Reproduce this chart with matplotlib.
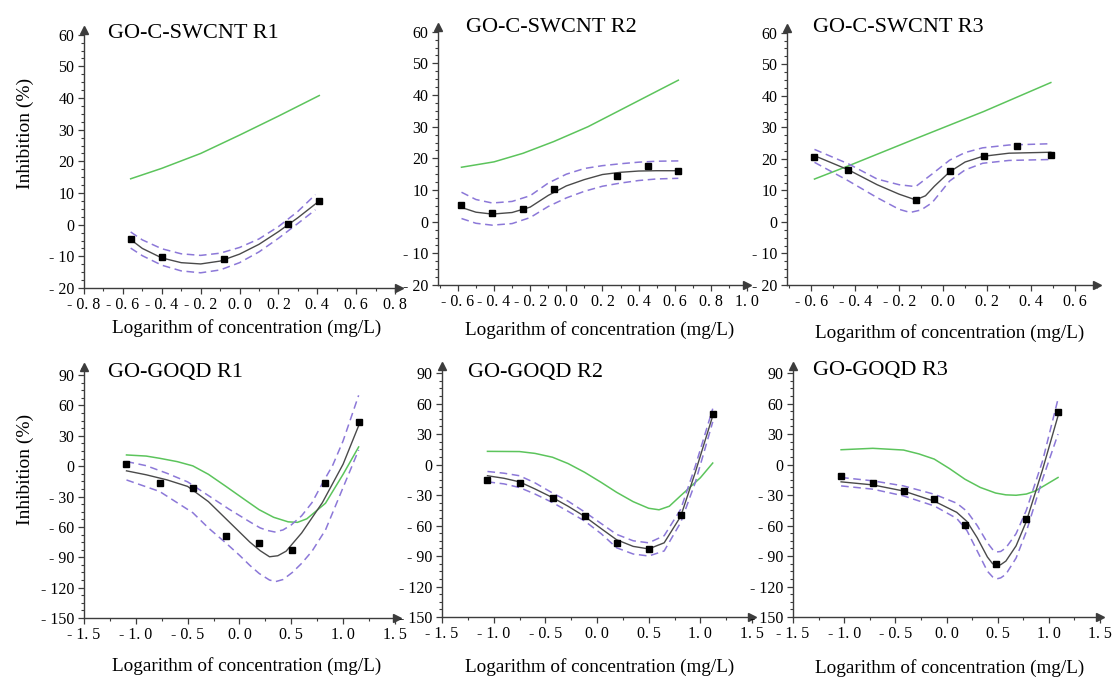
import numpy as np
import matplotlib.pyplot as plt
from matplotlib.ticker import MultipleLocator, AutoMinorLocator, FuncFormatter

plt.rcParams['font.family'] = ['Liberation Serif', 'DejaVu Serif']

# =======================================================
# values

# GO-C-SWCNT R1
r1_pts_x = [-0.56, -0.40, -0.08, 0.25, 0.41]
r1_pts_y = [-4.6, -10.2, -10.8, 0.2, 7.6]
r1_fit_x = [-0.56, -0.5, -0.4, -0.3, -0.2, -0.1, 0.0, 0.1, 0.2, 0.3, 0.41]
r1_fit_y = [-4.7, -7.5, -10.5, -12.0, -12.4, -11.5, -9.3, -6.2, -2.2, 2.2, 7.5]
r1_band_x = [-0.56, -0.5, -0.4, -0.3, -0.2, -0.1, 0.0, 0.1, 0.2, 0.3, 0.39]
r1_up_y = [-2.3, -4.8, -7.6, -9.2, -9.7, -9.0, -7.2, -4.5, -0.6, 4.2, 9.5]
r1_lo_y = [-7.4, -9.8, -12.8, -14.6, -15.2, -14.3, -12.0, -8.6, -4.3, 0.4, 4.7]
r1_green_x = [-0.56, -0.4, -0.2, 0.0, 0.2, 0.41]
r1_green_y = [14.5, 17.8, 22.5, 28.3, 34.3, 40.8]

# GO-C-SWCNT R2
r2_pts_x = [-0.58, -0.41, -0.24, -0.07, 0.28, 0.45, 0.62]
r2_pts_y = [5.3, 2.8, 3.9, 10.2, 14.4, 17.7, 16.0]
r2_fit_x = [-0.58, -0.5, -0.41, -0.3, -0.2, -0.1, 0.0, 0.1, 0.2, 0.3, 0.4, 0.5, 0.62]
r2_fit_y = [4.5, 3.0, 2.4, 2.9, 4.6, 8.3, 11.3, 13.3, 14.9, 15.6, 16.0, 16.1, 16.1]
r2_up_y = [9.3, 7.0, 5.9, 6.4, 8.2, 12.2, 15.0, 16.8, 17.7, 18.3, 18.8, 19.1, 19.2]
r2_lo_y = [1.0, -0.5, -1.1, -0.6, 1.3, 4.8, 7.5, 9.6, 11.2, 12.2, 13.0, 13.5, 13.7]
r2_green_x = [-0.58, -0.4, -0.24, -0.07, 0.12, 0.28, 0.46, 0.62]
r2_green_y = [17.2, 18.9, 21.6, 25.3, 30.0, 34.7, 40.0, 44.7]

# GO-C-SWCNT R3
r3_pts_x = [-0.585, -0.433, -0.125, 0.03, 0.184, 0.337, 0.492]
r3_pts_y = [20.5, 16.5, 7.1, 16.0, 20.9, 24.0, 21.2]
r3_fit_x = [-0.585, -0.43, -0.3, -0.2, -0.125, -0.08, -0.04, 0.03, 0.1, 0.18, 0.3, 0.49]
r3_fit_y = [21.0, 16.5, 11.8, 8.8, 7.0, 8.3, 11.3, 15.9, 19.0, 20.8, 21.8, 22.1]
r3_up_x = [-0.585, -0.43, -0.3, -0.2, -0.125, -0.05, 0.03, 0.1, 0.18, 0.3, 0.49]
r3_up_y = [23.0, 18.4, 13.6, 11.8, 11.2, 15.2, 19.6, 22.0, 23.5, 24.4, 24.8]
r3_lo_x = [-0.585, -0.43, -0.3, -0.2, -0.15, -0.1, -0.05, 0.03, 0.1, 0.18, 0.3, 0.49]
r3_lo_y = [18.9, 13.0, 7.7, 4.0, 3.0, 3.8, 6.1, 13.0, 16.5, 18.6, 19.5, 19.8]
r3_green_x = [-0.585, -0.43, -0.125, 0.184, 0.49]
r3_green_y = [13.6, 17.8, 26.4, 35.0, 44.2]

# GO-GOQD R1
q1_pts_x = [-1.09, -0.77, -0.45, -0.13, 0.19, 0.51, 0.83, 1.15]
q1_pts_y = [2.2, -16.8, -21.4, -69.4, -75.7, -83.2, -16.8, 43.3]
q1_fit_x = [-1.09, -0.9, -0.7, -0.5, -0.3, -0.1, 0.1, 0.2, 0.29, 0.37, 0.45, 0.6, 0.8, 1.0, 1.15]
q1_fit_y = [-4.6, -8.5, -13.5, -20.0, -35.0, -55.0, -75.0, -83.5, -89.5, -88.5, -84.0, -66.0, -36.0, 2.0, 40.0]
q1_up_x = [-1.09, -0.9, -0.7, -0.5, -0.3, -0.1, 0.1, 0.2, 0.27, 0.34, 0.42, 0.5, 0.6, 0.7, 0.8, 0.9, 1.0, 1.15]
q1_up_y = [4.6, 0.5, -7.0, -15.5, -29.0, -42.5, -55.0, -61.0, -63.5, -65.0, -63.0, -58.0, -49.0, -36.0, -17.0, 1.0, 25.0, 70.0]
q1_lo_x = [-1.09, -0.77, -0.45, -0.3, -0.13, 0.0, 0.1, 0.19, 0.29, 0.35, 0.42, 0.51, 0.6, 0.7, 0.83, 1.15]
q1_lo_y = [-13.6, -25.0, -46.0, -61.0, -76.0, -88.0, -98.0, -106.0, -112.5, -114.0, -112.0, -105.0, -96.0, -84.0, -63.0, 16.0]
q1_green_x = [-1.09, -0.9, -0.77, -0.6, -0.45, -0.3, -0.13, 0.05, 0.19, 0.33, 0.47, 0.56, 0.65, 0.83, 1.0, 1.15]
q1_green_y = [11.1, 10.0, 7.8, 4.5, 0.3, -8.0, -20.0, -33.0, -43.0, -50.5, -55.0, -55.5, -52.0, -36.6, -8.0, 19.0]

# GO-GOQD R2
q2_pts_x = [-1.06, -0.75, -0.43, -0.12, 0.19, 0.50, 0.81, 1.12]
q2_pts_y = [-15.3, -17.7, -33.1, -50.6, -77.6, -82.8, -49.6, 49.5]
q2_fit_x = [-1.06, -0.9, -0.75, -0.6, -0.43, -0.28, -0.12, 0.04, 0.19, 0.35, 0.5, 0.65, 0.81, 0.95, 1.12]
q2_fit_y = [-11, -13.5, -17, -24, -32.5, -41, -51, -63, -74, -80.5, -83, -77, -51, -8, 48]
q2_up_y = [-6.8, -8.5, -11, -18, -28, -36, -46.6, -58, -68.7, -75, -77, -70, -44, -2, 55]
q2_lo_y = [-17, -19, -22.6, -29, -37.4, -46, -55.5, -68, -81.9, -88, -90, -85, -57, -18, 42]
q2_green_x = [-1.06, -0.75, -0.6, -0.43, -0.28, -0.12, 0.04, 0.19, 0.35, 0.5, 0.6, 0.7, 0.81, 1.0, 1.12]
q2_green_y = [13, 12.8, 11.0, 7.2, 1.0, -7.6, -17.5, -27.3, -36.5, -43.0, -44.5, -41.0, -30.6, -13, 1.5]

# GO-GOQD R3
q3_pts_x = [-1.03, -0.72, -0.42, -0.12, 0.18, 0.48, 0.78, 1.09]
q3_pts_y = [-11.1, -18.6, -25.9, -34.1, -59.5, -98.3, -53.9, 51.5]
q3_fit_x = [-1.03, -0.72, -0.42, -0.12, 0.1, 0.2, 0.3, 0.4, 0.45, 0.49, 0.53, 0.58, 0.68, 0.78, 0.94, 1.09]
q3_fit_y = [-17, -20, -26, -36, -47, -56, -72, -91, -97.5, -99.5, -98.5, -95, -80, -56, -4.5, 48]
q3_up_y = [-12.7, -16, -21, -29.2, -38, -46, -60, -77, -83.5, -86, -85.5, -82, -68, -45, 4, 64.6]
q3_lo_y = [-21, -24.2, -30.8, -40.7, -53, -65, -85, -105, -110.5, -112.5, -111.5, -108, -92, -66, -14, 30]
q3_green_x = [-1.03, -0.72, -0.42, -0.27, -0.12, 0.03, 0.18, 0.33, 0.48, 0.58, 0.68, 0.78, 0.87, 1.09]
q3_green_y = [14.6, 16, 14.3, 10.5, 5.4, -4.0, -14.4, -22.5, -28, -29.8, -30.2, -29.0, -25.9, -12.7]

titles = ['GO-C-SWCNT R1', 'GO-C-SWCNT R2', 'GO-C-SWCNT R3',
          'GO-GOQD R1', 'GO-GOQD R2', 'GO-GOQD R3']
x_label = 'Logarithm of concentration (mg/L)'
y_label = 'Inhibition (%)'

# =======================================================
# layout (pixels of the 1119x678 picture)
W, H = 1119, 678
AX_COL = '#3c3c3c'
FIT_COL = '#4a4a4a'
BAND_COL = '#8c78d8'
GREEN_COL = '#5cc45c'

panels = [
    dict(rect=(84, 30, 399, 288), xlim=(-0.8, 0.82), ylim=(-20, 61.5), xs=0.2, ys=10,
         xt=(-0.8, 0.8), tpos=(108, 33), lpos=(247, 328),
         pts=(r1_pts_x, r1_pts_y), fit=(r1_fit_x, r1_fit_y),
         up=(r1_band_x, r1_up_y), lo=(r1_band_x, r1_lo_y), green=(r1_green_x, r1_green_y)),
    dict(rect=(438, 27, 747, 285), xlim=(-0.71, 1.0), ylim=(-20, 61.5), xs=0.2, ys=10,
         xt=(-0.6, 1.0), tpos=(466, 28), lpos=(600, 330),
         pts=(r2_pts_x, r2_pts_y), fit=(r2_fit_x, r2_fit_y),
         up=(r2_fit_x, r2_up_y), lo=(r2_fit_x, r2_lo_y), green=(r2_green_x, r2_green_y)),
    dict(rect=(787, 28, 1097, 285), xlim=(-0.71, 0.70), ylim=(-20, 61.5), xs=0.2, ys=10,
         xt=(-0.6, 0.6), tpos=(813, 27), lpos=(950, 333),
         pts=(r3_pts_x, r3_pts_y), fit=(r3_fit_x, r3_fit_y),
         up=(r3_up_x, r3_up_y), lo=(r3_lo_x, r3_lo_y), green=(r3_green_x, r3_green_y)),
    dict(rect=(84, 367, 397, 618), xlim=(-1.5, 1.52), ylim=(-150, 98), xs=0.5, ys=30,
         xt=(-1.5, 1.5), tpos=(108, 373), lpos=(247, 666),
         pts=(q1_pts_x, q1_pts_y), fit=(q1_fit_x, q1_fit_y),
         up=(q1_up_x, q1_up_y), lo=(q1_lo_x, q1_lo_y), green=(q1_green_x, q1_green_y)),
    dict(rect=(442, 366, 752, 617), xlim=(-1.5, 1.5), ylim=(-150, 97), xs=0.5, ys=30,
         xt=(-1.5, 1.5), tpos=(468, 372), lpos=(600, 667),
         pts=(q2_pts_x, q2_pts_y), fit=(q2_fit_x, q2_fit_y),
         up=(q2_fit_x, q2_up_y), lo=(q2_fit_x, q2_lo_y), green=(q2_green_x, q2_green_y)),
    dict(rect=(793, 366, 1100, 617), xlim=(-1.5, 1.5), ylim=(-150, 97), xs=0.5, ys=30,
         xt=(-1.5, 1.5), tpos=(813, 370), lpos=(950, 668),
         pts=(q3_pts_x, q3_pts_y), fit=(q3_fit_x, q3_fit_y),
         up=(q3_fit_x, q3_up_y), lo=(q3_fit_x, q3_lo_y), green=(q3_green_x, q3_green_y)),
]


def spaced(v, decimals):
    # the original writes "- 0. 8" with spaces after the sign and the point
    s = f'{v:.{decimals}f}'
    if s.startswith('-'):
        s = '- ' + s[1:]
    if s in ('- 0', '- 0.0'):
        s = s[2:]
    return s.replace('.', '. ')


fig = plt.figure(figsize=(W / 100, H / 100), dpi=100)

for i, p in enumerate(panels):
    l, t, r, b = p['rect']
    ax = fig.add_axes([l / W, 1 - b / H, (r - l) / W, (b - t) / H])
    ax.patch.set_visible(False)

    ax.plot(*p['green'], color=GREEN_COL, lw=1.1, zorder=2)
    ax.plot(*p['up'], color=BAND_COL, lw=1.1, ls=(0, (5, 3)), zorder=2)
    ax.plot(*p['lo'], color=BAND_COL, lw=1.1, ls=(0, (5, 3)), zorder=2)
    ax.plot(*p['fit'], color=FIT_COL, lw=1.0, zorder=3)
    ax.plot(*p['pts'], ls='none', marker='s', ms=5, color='black', zorder=4)

    for side in ('top', 'right'):
        ax.spines[side].set_visible(False)
    for side in ('left', 'bottom'):
        ax.spines[side].set_color(AX_COL)
        ax.spines[side].set_linewidth(1.0)

    # arrow heads at the axis ends
    ax.plot(1, 0, '>', color=AX_COL, ms=6, transform=ax.transAxes, clip_on=False)
    ax.plot(0, 1, '^', color=AX_COL, ms=6, transform=ax.transAxes, clip_on=False)

    x0, x1 = p['xt']
    ax.set_xticks(np.arange(x0, x1 + 1e-6, p['xs']))
    ax.xaxis.set_minor_locator(MultipleLocator(p['xs'] / 2))
    ax.yaxis.set_major_locator(MultipleLocator(p['ys']))
    ax.yaxis.set_minor_locator(AutoMinorLocator(4))
    ax.xaxis.set_major_formatter(FuncFormatter(lambda v, pos: spaced(v, 1)))
    ax.yaxis.set_major_formatter(FuncFormatter(lambda v, pos: spaced(v, 0)))
    ax.set_xlim(*p['xlim'])
    ax.set_ylim(*p['ylim'])

    ax.tick_params(axis='both', which='major', direction='out', length=4, width=0.9,
                   colors=AX_COL, labelcolor='black', labelsize=11.5)
    ax.tick_params(axis='both', which='minor', direction='out', length=2, width=0.8,
                   colors=AX_COL)
    ax.tick_params(axis='x', which='major', pad=2.5)
    ax.tick_params(axis='y', which='major', pad=3)

    fig.text(p['tpos'][0] / W, 1 - p['tpos'][1] / H, titles[i], fontsize=16,
             ha='left', va='center')
    fig.text(p['lpos'][0] / W, 1 - p['lpos'][1] / H, x_label, fontsize=13.8,
             ha='center', va='center')

fig.text(25 / W, 1 - 133 / H, y_label, fontsize=14, rotation=90, ha='center', va='center')
fig.text(25 / W, 1 - 469 / H, y_label, fontsize=14, rotation=90, ha='center', va='center')

fig.savefig('out.png', dpi=100)
